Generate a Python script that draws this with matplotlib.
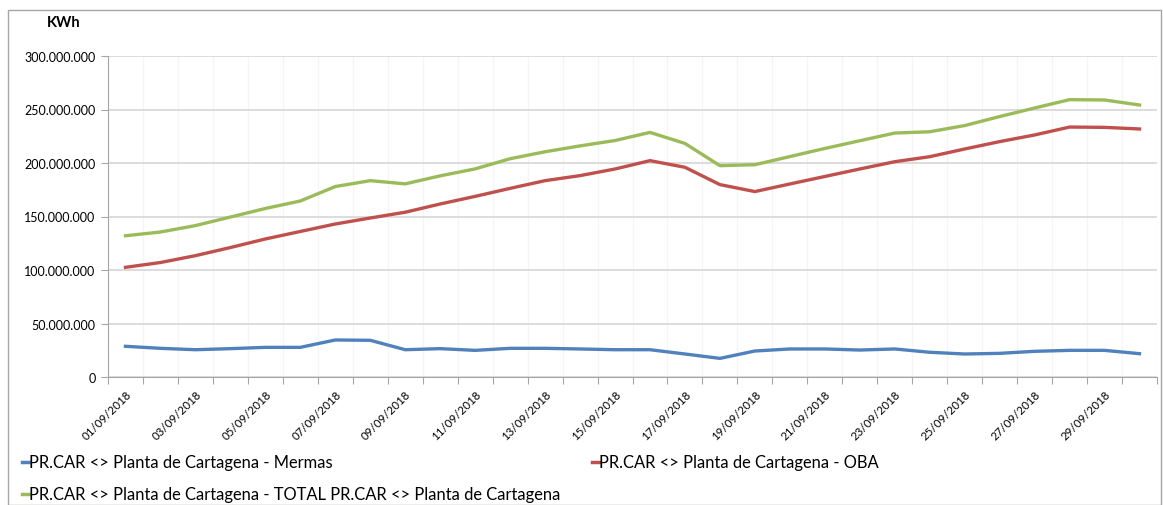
import matplotlib

matplotlib.use("Agg")

import matplotlib.pyplot as plt
from matplotlib.lines import Line2D
from matplotlib.patches import Rectangle
from matplotlib.ticker import FuncFormatter, FixedLocator

plt.rcParams["font.family"] = ["Lato", "DejaVu Sans"]

dates = [f"{d:02d}/09/2018" for d in range(1, 31)]

# values in millions of KWh
mermas = [28.7, 26.8, 25.5, 26.5, 27.7, 27.7, 34.6, 34.3, 25.5, 26.5,
          24.9, 26.8, 26.8, 26.2, 25.5, 25.5, 21.5, 17.4, 24.3, 26.2,
          26.2, 25.2, 26.2, 23.1, 21.5, 22.1, 24.0, 24.9, 24.9, 21.8]
oba = [102.5, 107.0, 113.4, 121.0, 129.0, 136.0, 143.0, 148.6, 154.0, 161.7,
       168.8, 176.3, 183.5, 188.2, 194.4, 202.2, 196.0, 179.8, 173.3, 180.4,
       187.4, 194.4, 201.2, 205.9, 213.1, 220.0, 226.2, 233.6, 233.3, 231.8]
total = [132.0, 135.5, 141.5, 149.5, 157.5, 164.5, 178.0, 183.5, 180.5, 188.0,
         194.5, 204.0, 210.5, 216.0, 221.0, 228.6, 218.3, 197.5, 198.4, 206.0,
         213.6, 220.8, 228.0, 229.2, 235.0, 243.4, 251.4, 259.2, 258.9, 254.2]

series = [
    ("PR.CAR <> Planta de Cartagena - Mermas", mermas, "#4F81BD"),
    ("PR.CAR <> Planta de Cartagena - OBA", oba, "#C0504D"),
    ("PR.CAR <> Planta de Cartagena - TOTAL PR.CAR <> Planta de Cartagena", total, "#9BBB59"),
]

W, H = 1163, 506
fig = plt.figure(figsize=(W / 100, H / 100), dpi=100)
ax = fig.add_axes([108 / W, 1 - 378 / H, (1157 - 108) / W, (378 - 57) / H])

# outer chart-area border
fig.add_artist(Rectangle((8 / W, 0), (1161 - 8) / W, 1 - 11 / H,
                         transform=fig.transFigure, fill=False,
                         edgecolor="#A6A6A6", linewidth=1))

x = list(range(len(dates)))
for label, vals, color in series:
    ax.plot(x, [v * 1e6 for v in vals], color=color, linewidth=2.4,
            solid_joinstyle="round", zorder=3)

ax.set_xlim(-0.5, len(dates) - 0.5)
ax.set_ylim(0, 300e6)
ax.set_yticks([i * 50e6 for i in range(7)])
ax.yaxis.set_major_formatter(
    FuncFormatter(lambda v, _: f"{int(round(v)):,}".replace(",", ".")))

# category boundaries: tick marks + light vertical grid
ax.xaxis.set_major_locator(FixedLocator([i - 0.5 for i in range(len(dates) + 1)]))
ax.xaxis.set_major_formatter(FuncFormatter(lambda v, _: ""))
ax.xaxis.set_minor_locator(FixedLocator(x[::2]))
ax.set_xticklabels(dates[::2], minor=True, rotation=45, ha="right",
                   rotation_mode="anchor", fontsize=8.3)
ax.tick_params(axis="x", which="minor", length=0, pad=8)
ax.tick_params(axis="x", which="major", length=5, color="#A6A6A6", direction="out")
ax.tick_params(axis="y", length=5, color="#A6A6A6", labelsize=9, pad=4)

ax.grid(axis="y", color="#D9D9D9", linewidth=1.3)
ax.grid(axis="x", which="major", color="#F5F5F5", linewidth=1)
ax.set_axisbelow(True)
for side in ("top", "right"):
    ax.spines[side].set_visible(False)
for side in ("left", "bottom"):
    ax.spines[side].set_color("#A6A6A6")

fig.text(47 / W, 1 - 23 / H, "KWh", fontsize=10.5, fontweight="bold", va="center")

# legend, laid out as in the reference
legend_pos = [(22, 463), (592, 463), (22, 495)]
for (px, py), (label, _, color) in zip(legend_pos, series):
    fig.add_artist(Line2D([px / W, (px + 7) / W], [1 - py / H, 1 - py / H],
                          transform=fig.transFigure, color=color, linewidth=2.5))
    fig.text((px + 7) / W, 1 - py / H, label, fontsize=11.9, va="center")

fig.savefig("out.png", dpi=100)
